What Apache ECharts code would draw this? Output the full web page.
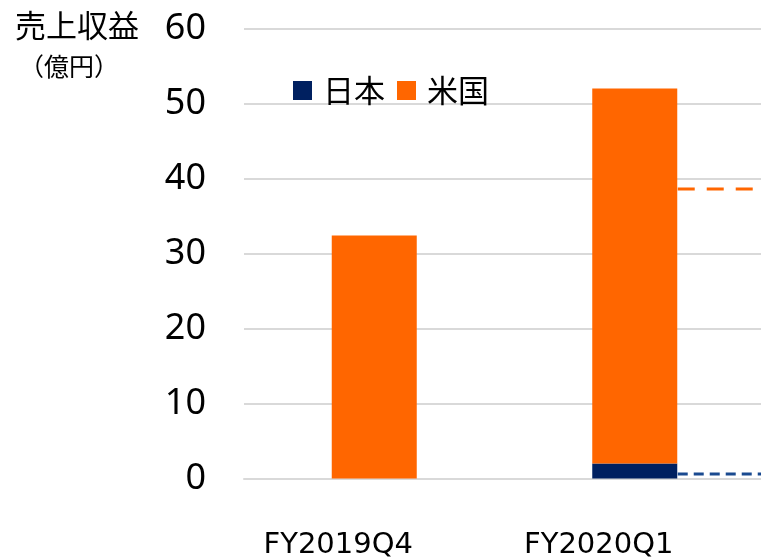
<!DOCTYPE html>
<html><head><meta charset="utf-8">
<script src="https://cdn.jsdelivr.net/npm/echarts@6/dist/echarts.min.js"></script>
<style>html,body{margin:0;padding:0;background:#fff}#c{width:761px;height:560px}</style>
</head><body><div id="c"></div>
<script>
const categories = ['FY2019Q4', 'FY2020Q1'];
const japan = [0, 2.0];
const usa = [32.4, 50.0];
const yTicks = { min: 0, max: 60, interval: 10 };
const forecastX = [1.665, 2];
const forecastUS = [38.6, 38.6];
const forecastJP = [0.6, 0.6];
const seriesNames = ['日本', '米国'];

const CJK = "'Noto Sans CJK JP', sans-serif";
const NAVY = '#002060', ORANGE = '#FF6600';

const chart = echarts.init(document.getElementById('c'), null, { renderer: 'canvas' });
chart.setOption({
  animation: false,
  backgroundColor: '#fff',
  title: [
    { text: '売上収益', left: 10, top: 5, textStyle: { fontFamily: CJK, fontSize: 31, fontWeight: 'normal', color: '#000' } },
    { text: '（億円）', left: 14, top: 49, textStyle: { fontFamily: CJK, fontSize: 25, fontWeight: 'normal', color: '#000' } }
  ],
  legend: {
    data: seriesNames,
    left: 288, top: 70,
    itemWidth: 19, itemHeight: 19, itemGap: 12,
    icon: 'rect',
    textStyle: { fontFamily: CJK, fontSize: 31, color: '#000', padding: [0, 0, 10, 6] }
  },
  grid: { left: 244, width: 521, top: 28.5, bottom: 81.5, containLabel: false, outerBoundsMode: 'none' },
  xAxis: [
    {
      type: 'category', data: categories,
      axisLine: { show: true, lineStyle: { color: '#d9d9d9', width: 2 } },
      axisTick: { show: false },
      axisLabel: { fontFamily: "'DejaVu Sans', sans-serif", fontSize: 29, color: '#000', margin: 52, padding: [0, 72, 0, 0] }
    },
    { type: 'value', min: 0, max: 2, show: false }
  ],
  yAxis: {
    type: 'value', min: yTicks.min, max: yTicks.max, interval: yTicks.interval,
    axisLine: { show: false }, axisTick: { show: false },
    axisLabel: { fontFamily: "'Noto Sans', sans-serif", fontSize: 36, color: '#000', margin: 38 },
    splitLine: { lineStyle: { color: '#d9d9d9', width: 2 } }
  },
  series: [
    { name: seriesNames[0], type: 'bar', stack: 'a', data: japan, barWidth: 85, itemStyle: { color: NAVY } },
    { name: seriesNames[1], type: 'bar', stack: 'a', data: usa, barWidth: 85, itemStyle: { color: ORANGE } },
    { type: 'line', xAxisIndex: 1, data: forecastX.map((x, i) => [x, forecastUS[i]]), symbol: 'none',
      lineStyle: { color: ORANGE, width: 3, type: [17, 12] }, silent: true },
    { type: 'line', xAxisIndex: 1, data: forecastX.map((x, i) => [x, forecastJP[i]]), symbol: 'none',
      lineStyle: { color: '#1a4a90', width: 3, type: [10, 6] }, silent: true }
  ]
});
</script></body></html>
